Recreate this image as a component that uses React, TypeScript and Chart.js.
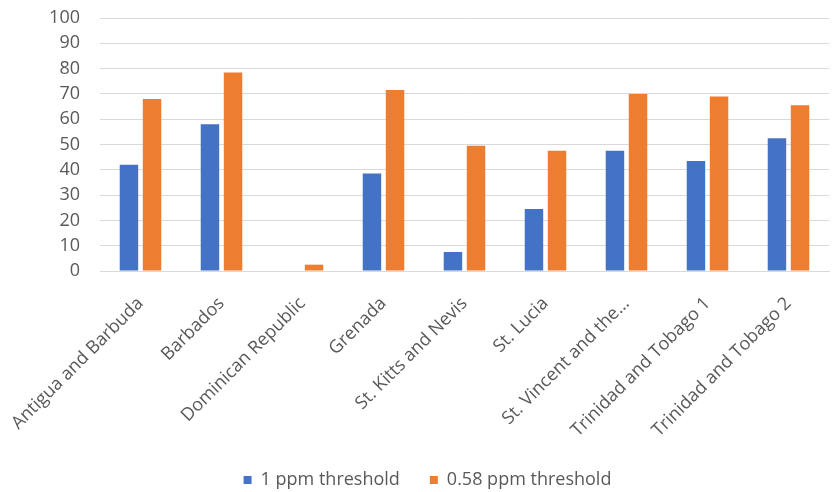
import React, { useEffect, useRef } from "react";
import { Chart, registerables } from "chart.js";

Chart.register(...registerables);

const categories = [
  "Antigua and Barbuda",
  "Barbados",
  "Dominican Republic",
  "Grenada",
  "St. Kitts and Nevis",
  "St. Lucia",
  "St. Vincent and the…",
  "Trinidad and Tobago 1",
  "Trinidad and Tobago 2",
];
const series1Label = "1 ppm threshold";
const series1 = [42, 58, 0, 38.5, 7.5, 24.5, 47.5, 43.5, 52.5];
const series2Label = "0.58 ppm threshold";
const series2 = [68, 78.5, 2.5, 71.5, 49.5, 47.5, 70, 69, 65.5];
const yTicks = [0, 10, 20, 30, 40, 50, 60, 70, 80, 90, 100];

const FONT = "'Open Sans', Lato, sans-serif";
const TEXT = "#595959";

export default function App() {
  const ref = useRef<HTMLCanvasElement | null>(null);
  useEffect(() => {
    document.body.style.margin = "0";
    const ctx = ref.current!.getContext("2d")!;
    const chart = new Chart(ctx, {
      type: "bar",
      data: {
        labels: categories,
        datasets: [
          {
            label: series1Label,
            data: series1,
            backgroundColor: "#4472C4",
            categoryPercentage: 0.57,
            barPercentage: 0.8,
          },
          {
            label: series2Label,
            data: series2,
            backgroundColor: "#ED7D31",
            categoryPercentage: 0.57,
            barPercentage: 0.8,
          },
        ],
      },
      options: {
        animation: false,
        responsive: false,
        devicePixelRatio: 1,
        layout: { padding: { top: 18, right: 4, left: 26, bottom: -7 } },
        plugins: {
          tooltip: { enabled: false },
          legend: {
            position: "bottom",
            labels: {
              boxWidth: 8,
              boxHeight: 8,
              color: TEXT,
              font: { family: FONT, size: 18 },
              padding: 30,
            },
          },
        },
        scales: {
          x: {
            grid: { display: false },
            border: { display: true, color: "#D9D9D9", width: 1 },
            ticks: {
              color: TEXT,
              font: { family: FONT, size: 18 },
              minRotation: 45,
              maxRotation: 45,
              autoSkip: false,
              padding: 14,
            },
            afterFit: (scale: any) => {
              scale.height = 170;
              scale.paddingLeft = 0;
              scale.paddingRight = 0;
            },
          },
          y: {
            min: 0,
            max: 100,
            afterBuildTicks: (scale: any) => {
              scale.ticks = yTicks.map((v) => ({ value: v }));
            },
            grid: { color: "#D9D9D9", drawTicks: false },
            border: { display: false },
            ticks: {
              color: TEXT,
              font: { family: FONT, size: 18 },
              padding: 20,
              autoSkip: false,
              stepSize: 10,
            },
            afterFit: (scale: any) => {
              scale.width = 74;
              scale.paddingTop = 0;
              scale.paddingBottom = 0;
            },
          },
        },
      },
    });
    return () => chart.destroy();
  }, []);
  return (
    <div style={{ width: 833, height: 492 }}>
      <canvas ref={ref} width={833} height={492} style={{ display: "block" }} />
    </div>
  );
}
